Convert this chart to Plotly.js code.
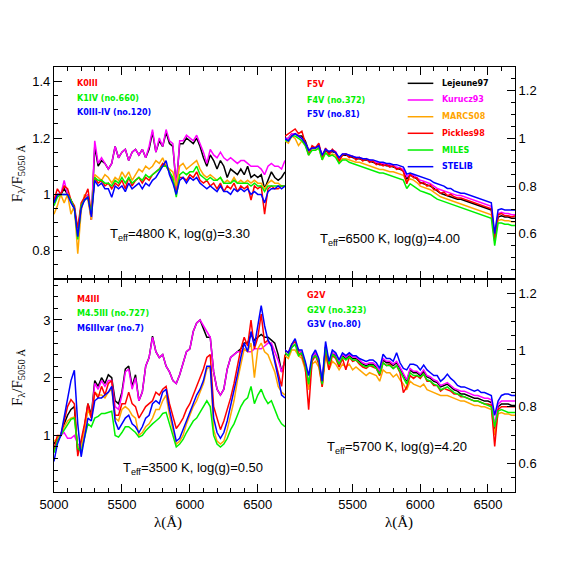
<!DOCTYPE html>
<html>
<head>
<meta charset="utf-8">
<script src="https://cdn.plot.ly/plotly-3.0.1.min.js"></script>
<style>html,body{margin:0;padding:0;background:#fff}#chart{width:581px;height:581px}</style>
</head>
<body>
<div id="chart"></div>
<script>
// wavelength grid (Angstrom)
var wave = [5000,5025,5050,5075,5100,5125,5150,5175,5200,5225,
  5250,5275,5300,5325,5350,5375,5400,5425,5450,5475,
  5500,5525,5550,5575,5600,5625,5650,5675,5700,5725,
  5750,5775,5800,5825,5850,5875,5900,5925,5950,5975,
  6000,6025,6050,6075,6100,6125,6150,6175,6200,6225,
  6250,6275,6300,6325,6350,6375,6400,6425,6450,6475,
  6500,6525,6550,6575,6600,6625,6650,6675,6700];

var names = ['Lejeune97','Kurucz93','MARCS08','Pickles98','MILES','STELIB'];
var colors = ['#000000','#ff00ff','#ffa500','#ff0000','#00f000','#0000ff'];

// Teff=4800 K, log(g)=3.30
var tl_lej = [0.97,1.00,1.00,1.02,1.00,0.98,0.95,0.86,0.96,0.98,
  1.00,0.91,1.17,1.10,1.12,1.11,1.09,1.11,1.17,1.13,
  1.15,1.16,1.12,1.15,1.16,1.14,1.16,1.13,1.16,1.22,
  1.15,1.19,1.17,1.22,1.18,1.17,1.03,1.18,1.18,1.20,
  1.19,1.18,1.20,1.17,1.13,1.10,1.14,1.12,1.09,1.12,
  1.10,1.06,1.09,1.08,1.07,1.09,1.07,1.10,1.06,1.07,
  1.06,1.07,1.02,1.05,1.08,1.06,1.05,1.06,1.08];
var tl_kur = [0.98,1.00,1.00,1.05,1.00,0.98,0.95,0.87,0.96,0.98,
  1.00,0.91,1.19,1.11,1.13,1.11,1.09,1.11,1.17,1.13,
  1.15,1.16,1.12,1.15,1.16,1.14,1.16,1.13,1.17,1.23,
  1.15,1.20,1.17,1.23,1.19,1.18,1.02,1.19,1.19,1.21,
  1.20,1.19,1.21,1.18,1.15,1.11,1.16,1.14,1.13,1.15,
  1.13,1.12,1.13,1.12,1.11,1.12,1.12,1.11,1.10,1.10,
  1.10,1.09,1.07,1.10,1.11,1.10,1.10,1.09,1.12];
var tl_marcs = [0.93,0.96,1.00,0.97,1.00,0.93,0.96,0.79,0.94,1.00,
  0.98,0.91,1.07,1.06,1.05,1.07,1.06,1.04,1.06,1.05,
  1.08,1.06,1.08,1.05,1.07,1.09,1.08,1.10,1.09,1.10,
  1.12,1.11,1.13,1.10,1.09,1.08,1.03,1.10,1.11,1.09,
  1.10,1.11,1.12,1.09,1.07,1.06,1.07,1.06,1.05,1.06,
  1.04,1.05,1.04,1.06,1.04,1.05,1.04,1.05,1.04,1.05,
  1.04,1.04,1.02,1.04,1.05,1.04,1.04,1.03,1.03];
var tl_pick = [0.98,1.02,1.00,1.03,1.02,0.98,0.96,0.88,0.97,0.99,
  1.02,0.93,1.06,1.04,1.05,1.03,1.04,1.02,1.04,1.03,
  1.05,1.02,1.06,1.03,1.05,1.06,1.04,1.06,1.05,1.07,
  1.08,1.09,1.11,1.10,1.08,1.05,1.01,1.06,1.06,1.05,
  1.07,1.06,1.08,1.05,1.04,1.05,1.03,1.04,1.02,1.04,
  1.01,1.03,1.02,1.04,1.01,1.03,1.02,1.03,0.98,1.03,
  1.02,1.03,0.93,1.02,1.03,1.02,1.02,1.03,1.03];
var tl_miles = [0.96,0.99,1.00,1.00,1.00,0.98,0.95,0.84,0.96,0.98,
  0.99,0.93,1.06,1.05,1.05,1.04,1.04,1.03,1.05,1.04,
  1.06,1.04,1.06,1.04,1.05,1.06,1.05,1.07,1.06,1.07,
  1.08,1.09,1.10,1.10,1.08,1.06,0.99,1.07,1.08,1.07,
  1.08,1.08,1.10,1.07,1.06,1.05,1.06,1.05,1.05,1.06,
  1.04,1.04,1.04,1.05,1.04,1.04,1.04,1.04,1.03,1.04,
  1.03,1.03,1.01,1.03,1.03,1.03,1.03,1.03,1.03];
var tl_stelib = [0.97,1.00,1.00,1.00,1.00,0.97,0.95,0.85,0.95,0.98,
  0.99,0.92,1.05,1.03,1.04,1.02,1.02,0.99,1.03,1.02,
  1.03,1.01,1.04,1.02,1.03,1.04,1.02,1.04,1.03,1.05,
  1.06,1.08,1.10,1.12,1.07,1.04,1.00,1.05,1.06,1.04,
  1.06,1.05,1.06,1.04,1.03,1.02,1.03,1.02,1.01,1.03,
  1.01,1.01,1.00,1.02,1.01,1.02,1.01,1.02,1.00,1.01,
  1.00,1.00,0.97,1.01,1.02,1.02,1.03,1.02,1.03];

// Teff=6500 K, log(g)=4.00
var tr_lej = [1.00,1.00,1.02,1.02,1.01,1.01,0.99,0.95,0.96,0.96,
  0.97,0.92,0.95,0.94,0.945,0.94,0.91,0.93,0.93,0.925,
  0.92,0.915,0.915,0.91,0.91,0.905,0.90,0.895,0.89,0.89,
  0.885,0.885,0.88,0.875,0.87,0.865,0.83,0.845,0.84,0.83,
  0.815,0.81,0.805,0.80,0.79,0.78,0.77,0.765,0.76,0.755,
  0.75,0.745,0.745,0.74,0.735,0.73,0.725,0.72,0.715,0.71,
  0.705,0.70,0.58,0.67,0.675,0.67,0.67,0.665,0.665];
var tr_kur = [1.00,1.00,1.02,1.02,1.01,1.00,0.98,0.95,0.96,0.96,
  0.97,0.93,0.955,0.945,0.95,0.945,0.915,0.935,0.935,0.93,
  0.925,0.92,0.92,0.915,0.915,0.91,0.905,0.90,0.895,0.895,
  0.89,0.89,0.885,0.88,0.875,0.87,0.84,0.85,0.845,0.835,
  0.825,0.82,0.815,0.81,0.80,0.79,0.785,0.78,0.775,0.77,
  0.765,0.76,0.76,0.755,0.75,0.745,0.74,0.735,0.73,0.725,
  0.72,0.715,0.59,0.685,0.69,0.685,0.685,0.68,0.68];
var tr_marcs = [0.99,0.98,1.01,1.00,0.97,0.99,0.97,0.94,0.95,0.95,
  0.96,0.91,0.94,0.93,0.935,0.93,0.90,0.915,0.915,0.91,
  0.905,0.90,0.90,0.895,0.89,0.885,0.88,0.875,0.87,0.87,
  0.865,0.86,0.86,0.855,0.85,0.845,0.82,0.83,0.825,0.815,
  0.80,0.795,0.79,0.785,0.775,0.765,0.755,0.75,0.745,0.74,
  0.735,0.73,0.725,0.72,0.715,0.71,0.705,0.70,0.695,0.69,
  0.685,0.68,0.57,0.655,0.66,0.655,0.655,0.65,0.65];
var tr_pick = [1.01,1.02,1.03,1.04,1.02,1.03,0.98,0.93,0.97,0.96,
  0.98,0.92,0.96,0.93,0.955,0.94,0.905,0.93,0.935,0.92,
  0.925,0.91,0.92,0.905,0.915,0.90,0.905,0.89,0.895,0.885,
  0.89,0.88,0.885,0.87,0.875,0.86,0.81,0.85,0.835,0.835,
  0.81,0.815,0.80,0.805,0.785,0.785,0.77,0.775,0.76,0.765,
  0.755,0.75,0.75,0.745,0.74,0.735,0.73,0.725,0.72,0.715,
  0.71,0.705,0.57,0.68,0.685,0.675,0.675,0.67,0.675];
var tr_miles = [0.99,0.99,1.01,1.01,1.00,0.99,0.97,0.93,0.95,0.95,
  0.96,0.91,0.94,0.925,0.93,0.92,0.895,0.91,0.91,0.90,
  0.895,0.89,0.885,0.88,0.875,0.87,0.865,0.86,0.855,0.855,
  0.85,0.845,0.84,0.835,0.83,0.825,0.79,0.81,0.80,0.79,
  0.78,0.775,0.77,0.765,0.755,0.745,0.74,0.735,0.73,0.725,
  0.72,0.715,0.71,0.705,0.70,0.695,0.69,0.685,0.68,0.675,
  0.67,0.665,0.55,0.645,0.645,0.64,0.64,0.635,0.635];
var tr_stelib = [1.00,0.99,1.01,1.02,1.01,1.00,0.98,0.95,0.96,0.96,
  0.97,0.93,0.955,0.945,0.95,0.94,0.92,0.935,0.935,0.93,
  0.925,0.92,0.92,0.915,0.915,0.91,0.91,0.905,0.90,0.90,
  0.895,0.895,0.89,0.89,0.885,0.88,0.85,0.855,0.85,0.845,
  0.84,0.835,0.83,0.825,0.815,0.81,0.805,0.80,0.79,0.79,
  0.78,0.775,0.77,0.77,0.765,0.76,0.755,0.75,0.745,0.74,
  0.735,0.73,0.60,0.70,0.705,0.70,0.70,0.70,0.70];

// Teff=3500 K, log(g)=0.50
var bl_lej = [0.85,0.95,1.00,1.20,1.35,1.45,1.50,0.70,0.85,1.15,
  1.55,1.35,1.95,1.85,2.00,1.90,2.05,2.00,1.60,1.55,
  1.75,2.15,2.20,1.85,2.05,1.60,1.75,2.20,2.35,2.72,
  2.45,2.35,2.40,2.20,2.10,1.95,1.90,2.05,2.25,2.45,
  2.50,2.80,2.95,3.00,2.85,2.70,2.70,2.10,1.80,1.70,
  1.80,2.15,2.35,2.40,2.45,2.50,2.60,2.60,2.75,2.65,
  2.70,2.75,2.70,2.70,2.65,2.60,2.40,2.10,2.30];
var bl_kur = [0.80,0.90,1.00,1.05,0.95,0.95,1.00,0.85,0.80,1.10,
  1.50,1.30,1.90,1.80,1.95,1.85,1.95,1.95,1.50,1.45,
  1.70,2.10,2.15,1.80,2.00,1.60,1.75,2.20,2.35,2.70,
  2.45,2.35,2.40,2.20,2.10,1.95,1.90,2.05,2.25,2.45,
  2.50,2.80,2.95,3.00,2.90,2.80,2.70,2.10,1.80,1.70,
  1.80,2.15,2.35,2.40,2.45,2.45,2.50,2.45,2.45,2.50,
  2.50,2.50,2.55,2.60,2.60,2.45,2.30,2.10,2.30];
var bl_marcs = [0.90,0.95,1.00,1.15,1.25,1.30,1.32,0.80,0.80,1.10,
  1.45,1.30,1.75,1.70,1.70,1.65,1.75,1.80,1.30,1.25,
  1.45,1.50,1.45,1.35,1.30,1.00,1.05,1.15,1.20,1.30,
  1.45,1.45,1.60,1.70,1.35,1.10,0.85,0.90,1.00,1.20,
  1.35,1.50,1.60,1.75,1.90,2.15,2.20,1.10,0.90,0.85,
  0.90,1.10,1.35,1.60,1.95,2.20,2.50,2.45,2.60,2.00,
  2.50,2.60,2.45,2.40,2.25,2.10,1.85,1.75,1.70];
var bl_pick = [0.75,1.00,1.00,1.25,1.50,1.62,1.55,0.64,0.90,1.20,
  1.55,1.30,1.75,1.65,1.85,1.70,1.90,1.95,1.35,1.35,
  1.55,1.55,1.75,1.55,1.50,1.30,1.40,1.50,1.55,1.60,
  1.75,1.70,1.80,1.85,1.55,1.35,1.12,1.20,1.30,1.45,
  1.55,1.70,1.85,2.00,2.15,2.35,2.40,1.50,1.30,1.10,
  1.25,1.45,1.65,1.90,2.20,2.50,2.70,2.55,3.00,2.50,
  2.70,3.10,2.60,2.65,2.55,2.30,2.05,1.85,2.40];
var bl_miles = [0.70,0.90,1.00,1.10,1.20,1.28,1.30,0.78,0.72,0.95,
  1.20,1.15,1.30,1.33,1.38,1.38,1.40,1.42,1.00,0.97,
  1.05,1.15,1.15,1.10,1.05,0.97,1.00,1.08,1.15,1.20,
  1.25,1.30,1.38,1.40,1.20,1.00,0.80,0.85,0.93,1.05,
  1.15,1.25,1.30,1.40,1.50,1.60,1.50,1.00,0.85,0.80,
  0.85,0.95,1.10,1.20,1.35,1.50,1.60,1.65,1.85,1.55,
  1.70,1.80,1.65,1.55,1.60,1.45,1.30,1.20,1.15];
var bl_stelib = [0.55,0.85,1.00,1.30,1.60,1.95,2.13,1.20,0.63,1.00,
  1.30,1.25,1.60,1.65,1.65,1.70,1.75,1.85,1.25,1.10,
  1.20,1.30,1.35,1.20,1.15,1.05,1.15,1.30,1.35,1.55,
  1.60,1.55,1.75,1.80,1.45,1.20,0.90,0.95,1.10,1.25,
  1.40,1.55,1.70,1.80,1.95,2.20,2.20,1.30,1.05,0.95,
  1.05,1.25,1.50,1.75,2.05,2.35,2.60,2.45,2.80,2.55,
  2.90,3.25,2.90,2.65,2.55,2.30,2.00,1.70,1.65];

// Teff=5700 K, log(g)=4.20
var br_lej = [0.99,0.98,1.01,1.02,1.00,0.99,0.95,0.87,0.97,0.99,
  0.96,0.88,1.01,0.95,0.99,0.98,0.95,0.98,0.97,0.98,
  0.97,0.97,0.96,0.95,0.945,0.95,0.95,0.94,0.92,0.965,
  0.955,0.955,0.945,0.955,0.935,0.915,0.89,0.93,0.92,0.92,
  0.91,0.925,0.905,0.90,0.89,0.885,0.87,0.875,0.88,0.87,
  0.86,0.855,0.845,0.845,0.84,0.835,0.83,0.83,0.825,0.82,
  0.82,0.815,0.72,0.80,0.81,0.81,0.81,0.805,0.805];
var br_kur = [0.99,0.98,1.01,1.02,1.00,0.99,0.955,0.88,0.97,0.99,
  0.965,0.89,1.015,0.955,0.99,0.985,0.955,0.985,0.975,0.985,
  0.975,0.975,0.965,0.955,0.95,0.955,0.955,0.945,0.925,0.97,
  0.96,0.96,0.95,0.96,0.94,0.92,0.895,0.935,0.925,0.925,
  0.915,0.93,0.91,0.905,0.895,0.89,0.875,0.88,0.885,0.875,
  0.865,0.86,0.855,0.855,0.85,0.845,0.84,0.84,0.835,0.83,
  0.83,0.825,0.73,0.81,0.82,0.82,0.82,0.82,0.82];
var br_marcs = [0.98,0.97,1.00,1.00,0.98,0.97,0.93,0.86,0.95,0.96,
  0.94,0.87,0.98,0.93,0.96,0.95,0.93,0.95,0.94,0.95,
  0.93,0.94,0.93,0.92,0.91,0.92,0.915,0.91,0.89,0.93,
  0.92,0.92,0.905,0.915,0.895,0.88,0.86,0.89,0.88,0.875,
  0.87,0.88,0.86,0.855,0.85,0.845,0.84,0.84,0.84,0.835,
  0.83,0.825,0.82,0.82,0.815,0.81,0.805,0.805,0.80,0.80,
  0.795,0.79,0.70,0.775,0.78,0.775,0.775,0.77,0.77];
var br_pick = [1.00,0.99,1.02,1.03,0.99,0.98,0.94,0.79,0.96,0.98,
  0.95,0.87,1.00,0.93,0.98,0.97,0.94,0.97,0.93,0.975,
  0.96,0.965,0.95,0.94,0.935,0.945,0.94,0.935,0.91,0.955,
  0.945,0.95,0.935,0.945,0.92,0.85,0.87,0.91,0.90,0.91,
  0.90,0.915,0.89,0.89,0.875,0.875,0.855,0.865,0.86,0.855,
  0.845,0.845,0.835,0.835,0.83,0.825,0.82,0.82,0.815,0.81,
  0.81,0.805,0.66,0.79,0.80,0.80,0.80,0.80,0.80];
var br_miles = [0.99,0.98,1.01,1.02,0.98,0.99,0.95,0.88,0.97,0.98,
  0.96,0.88,1.01,0.95,0.985,0.975,0.95,0.975,0.965,0.975,
  0.965,0.965,0.955,0.945,0.94,0.945,0.945,0.935,0.915,0.955,
  0.945,0.945,0.935,0.945,0.925,0.905,0.88,0.92,0.91,0.91,
  0.905,0.915,0.895,0.89,0.88,0.875,0.86,0.865,0.87,0.86,
  0.85,0.845,0.84,0.835,0.83,0.825,0.82,0.82,0.815,0.81,
  0.805,0.80,0.73,0.785,0.79,0.785,0.78,0.78,0.78];
var br_stelib = [1.00,0.99,1.02,1.04,1.00,1.00,0.96,0.91,0.98,1.00,
  0.97,0.89,1.03,0.96,1.00,0.99,0.965,0.99,0.98,0.99,
  0.98,0.98,0.97,0.965,0.96,0.965,0.965,0.955,0.935,0.985,
  0.97,0.97,0.96,0.99,0.955,0.935,0.93,0.95,0.95,0.945,
  0.93,0.947,0.93,0.92,0.91,0.91,0.89,0.90,0.915,0.90,
  0.89,0.875,0.87,0.87,0.865,0.86,0.855,0.86,0.85,0.85,
  0.845,0.84,0.77,0.82,0.84,0.845,0.845,0.84,0.84];

var panels = [
  {xa: 'x3', ya: 'y3', series: [tl_lej, tl_kur, tl_marcs, tl_pick, tl_miles, tl_stelib]},
  {xa: 'x4', ya: 'y4', series: [tr_lej, tr_kur, tr_marcs, tr_pick, tr_miles, tr_stelib]},
  {xa: 'x', ya: 'y', series: [bl_lej, bl_kur, bl_marcs, bl_pick, bl_miles, bl_stelib]},
  {xa: 'x2', ya: 'y2', series: [br_lej, br_kur, br_marcs, br_pick, br_miles, br_stelib]}
];

var traces = [];
panels.forEach(function(p) {
  p.series.forEach(function(s, k) {
    traces.push({x: wave, y: s, xaxis: p.xa, yaxis: p.ya, type: 'scatter', mode: 'lines',
      name: names[k], showlegend: false, hoverinfo: 'skip',
      line: {color: colors[k], width: 1.5}});
  });
});

// panel boundaries in paper coords
var xL = [0.0929, 0.4905], xR = [0.4905, 0.8864];
var yB = [0.1532, 0.5198], yT = [0.5198, 0.8847];
var tickFont = {family: 'Liberation Sans, Arial, sans-serif', size: 13, color: '#000'};

function xAxis(dom, anchor, labels, vals) {
  var a = {domain: dom, anchor: anchor, range: [5000, 6700], showline: true, linecolor: '#000', linewidth: 1,
    mirror: 'allticks', ticks: 'inside', ticklen: 8, tickcolor: '#000', showgrid: false, zeroline: false,
    showticklabels: labels, tickfont: tickFont,
    minor: {ticks: 'inside', ticklen: 4, tickcolor: '#000', tickmode: 'linear', tick0: 5000, dtick: 100, showgrid: false}};
  if (vals) { a.tickmode = 'array'; a.tickvals = vals; } else { a.tickmode = 'linear'; a.tick0 = 5000; a.dtick = 500; }
  return a;
}
function yAxis(dom, anchor, side, range, dtick, mdtick) {
  // the left panels draw the shared divider; right panels only their own side
  return {domain: dom, anchor: anchor, side: side, range: range, showline: true, linecolor: '#000', linewidth: 1,
    mirror: side === 'left', ticks: 'inside', ticklen: 8, tickcolor: '#000', tickmode: 'linear', tick0: 0, dtick: dtick,
    showgrid: false, zeroline: false, tickfont: tickFont,
    minor: {ticks: 'inside', ticklen: 4, tickcolor: '#000', tickmode: 'linear', tick0: 0, dtick: mdtick, showgrid: false}};
}

var boldFamily = 'DejaVu Sans, sans-serif';
function label(txt, col, x, y) {
  return {text: '<b>' + txt + '</b>', font: {family: boldFamily, size: 8, color: col},
    xref: 'paper', yref: 'paper', x: x, y: y, xanchor: 'left', yanchor: 'middle', showarrow: false};
}
function teff(txt, x, y) {
  return {text: txt, font: {family: 'Liberation Sans, Arial, sans-serif', size: 13, color: '#000'},
    xref: 'paper', yref: 'paper', x: x, y: y, xanchor: 'center', yanchor: 'middle', showarrow: false};
}

var annotations = [
  label('K0III', '#ff0000', 0.129, 0.857), label('K1IV (no.660)', '#00f000', 0.129, 0.831), label('K0III-IV (no.120)', '#0000ff', 0.129, 0.807),
  label('F5V', '#ff0000', 0.525, 0.855), label('F4V (no.372)', '#00f000', 0.525, 0.827), label('F5V (no.81)', '#0000ff', 0.525, 0.803),
  label('M4III', '#ff0000', 0.129, 0.484), label('M4.5III (no.727)', '#00f000', 0.129, 0.461), label('M6IIIvar (no.7)', '#0000ff', 0.129, 0.434),
  label('G2V', '#ff0000', 0.525, 0.491), label('G2V (no.323)', '#00f000', 0.525, 0.465), label('G3V (no.80)', '#0000ff', 0.525, 0.441),
  teff('T<sub>eff</sub>=4800 K, log(g)=3.30', 0.310, 0.597),
  teff('T<sub>eff</sub>=6500 K, log(g)=4.00', 0.671, 0.588),
  teff('T<sub>eff</sub>=3500 K, log(g)=0.50', 0.332, 0.194),
  teff('T<sub>eff</sub>=5700 K, log(g)=4.20', 0.683, 0.230)
];
var titleFont = {family: 'Liberation Serif, Times New Roman, serif', size: 15, color: '#000'};
[0.702, 0.351].forEach(function(y) {
  annotations.push({text: 'F<sub>λ</sub>/F<sub>5050 Å</sub>', font: titleFont, textangle: -90,
    xref: 'paper', yref: 'paper', x: 0.031, y: y, xanchor: 'center', yanchor: 'middle', showarrow: false});
});
[0.289, 0.687].forEach(function(x) {
  annotations.push({text: 'λ(Å)', font: titleFont, xref: 'paper', yref: 'paper', x: x, y: 0.1015,
    xanchor: 'center', yanchor: 'middle', showarrow: false});
});

// legend in the top-right panel
var legY = [0.8566, 0.8279, 0.7991, 0.7706, 0.7418, 0.7131];
var shapes = [];
names.forEach(function(n, k) {
  shapes.push({type: 'line', xref: 'paper', yref: 'paper', x0: 0.7017, x1: 0.7458, y0: legY[k], y1: legY[k],
    line: {color: colors[k], width: 1.5}});
  annotations.push(label(n, colors[k], 0.757, legY[k]));
});

var layout = {
  width: 581, height: 581, autosize: false,
  margin: {l: 0, r: 0, t: 0, b: 0},
  paper_bgcolor: '#fff', plot_bgcolor: '#fff',
  showlegend: false,
  xaxis: xAxis(xL, 'y', true, null),
  xaxis2: xAxis(xR, 'y2', true, [5500, 6000, 6500]),
  xaxis3: xAxis(xL, 'y3', false, null),
  xaxis4: xAxis(xR, 'y4', false, null),
  yaxis: yAxis(yB, 'x', 'left', [0.02, 3.71], 1, 0.2),
  yaxis2: yAxis(yB, 'x2', 'right', [0.50, 1.25], 0.2, 0.05),
  yaxis3: yAxis(yT, 'x3', 'left', [0.70, 1.452], 0.2, 0.05),
  yaxis4: yAxis(yT, 'x4', 'right', [0.41, 1.30], 0.2, 0.05),
  annotations: annotations,
  shapes: shapes
};

Plotly.newPlot('chart', traces, layout, {staticPlot: true, displayModeBar: false});
</script>
</body>
</html>
